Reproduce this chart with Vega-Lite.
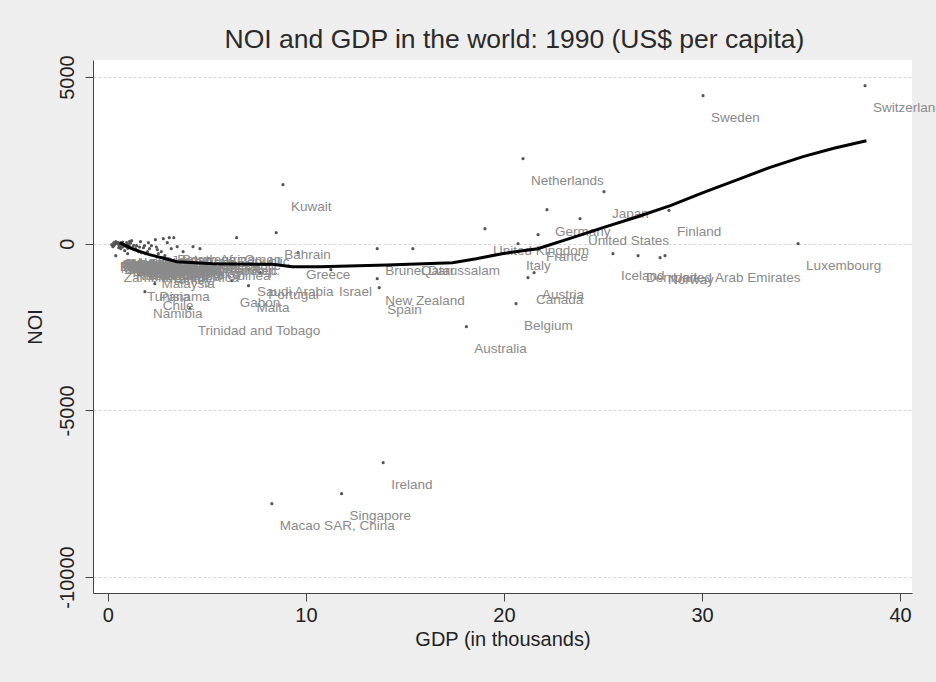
{
  "$schema": "https://vega.github.io/schema/vega-lite/v6.json",
  "width": 819,
  "height": 533,
  "autosize": {"type": "none"},
  "padding": {"left": 93, "top": 60, "right": 24, "bottom": 89},
  "background": "#eeeeee",
  "title": {
    "text": "NOI and GDP in the world: 1990 (US$ per capita)",
    "font": "Liberation Sans",
    "fontSize": 26.5,
    "fontWeight": "normal",
    "color": "#2a2a2a",
    "anchor": "middle",
    "offset": 1,
    "dx": 12
  },
  "config": {
    "view": {"fill": "white", "stroke": null},
    "axis": {
      "labelFont": "Liberation Sans",
      "titleFont": "Liberation Sans",
      "titleFontWeight": "normal",
      "labelColor": "#222222",
      "titleColor": "#222222",
      "domainColor": "#444444",
      "tickColor": "#444444",
      "labelFontSize": 20,
      "titleFontSize": 20,
      "tickSize": 8
    }
  },
  "datasets": {
    "countries": [
      {"country": "Ethiopia", "gdp": 0.2, "noi": -30},
      {"country": "Mozambique", "gdp": 0.25, "noi": -90},
      {"country": "Tanzania", "gdp": 0.3, "noi": -60},
      {"country": "Somalia", "gdp": 0.3, "noi": 30},
      {"country": "Malawi", "gdp": 0.35, "noi": -20},
      {"country": "Zambia", "gdp": 0.4, "noi": -360},
      {"country": "Chad", "gdp": 0.4, "noi": 60},
      {"country": "Burundi", "gdp": 0.45, "noi": 10},
      {"country": "Nepal", "gdp": 0.5, "noi": 40},
      {"country": "Bangladesh", "gdp": 0.55, "noi": -30},
      {"country": "Sierra Leone", "gdp": 0.55, "noi": -120},
      {"country": "Rwanda", "gdp": 0.6, "noi": 20},
      {"country": "Uganda", "gdp": 0.6, "noi": -90},
      {"country": "Madagascar", "gdp": 0.65, "noi": -150},
      {"country": "Burkina Faso", "gdp": 0.7, "noi": -40},
      {"country": "Niger", "gdp": 0.75, "noi": -100},
      {"country": "Mali", "gdp": 0.75, "noi": 50},
      {"country": "India", "gdp": 0.8, "noi": -40},
      {"country": "Nigeria", "gdp": 0.85, "noi": -210},
      {"country": "Kenya", "gdp": 0.9, "noi": -80},
      {"country": "Ghana", "gdp": 0.95, "noi": -60},
      {"country": "Gambia", "gdp": 0.95, "noi": 30},
      {"country": "Togo", "gdp": 1.0, "noi": -140},
      {"country": "Central African Republic", "gdp": 1.0, "noi": 0},
      {"country": "Benin", "gdp": 1.05, "noi": -20},
      {"country": "Haiti", "gdp": 1.1, "noi": 70},
      {"country": "Pakistan", "gdp": 1.1, "noi": -90},
      {"country": "China", "gdp": 1.15, "noi": 20},
      {"country": "Nicaragua", "gdp": 1.0, "noi": -300},
      {"country": "Lesotho", "gdp": 1.2, "noi": 90},
      {"country": "Zimbabwe", "gdp": 1.25, "noi": -120},
      {"country": "Sri Lanka", "gdp": 1.3, "noi": -50},
      {"country": "Honduras", "gdp": 1.35, "noi": -180},
      {"country": "Indonesia", "gdp": 1.4, "noi": -150},
      {"country": "Senegal", "gdp": 1.45, "noi": -60},
      {"country": "Bolivia", "gdp": 1.5, "noi": -210},
      {"country": "Cameroon", "gdp": 1.55, "noi": -240},
      {"country": "Philippines", "gdp": 1.6, "noi": -100},
      {"country": "Egypt", "gdp": 1.65, "noi": 60},
      {"country": "Côte d'Ivoire", "gdp": 1.7, "noi": -270},
      {"country": "Guatemala", "gdp": 1.8, "noi": -120},
      {"country": "Morocco", "gdp": 1.85, "noi": -60},
      {"country": "Papua New Guinea", "gdp": 1.9, "noi": -300},
      {"country": "Tunisia", "gdp": 1.57, "noi": -930},
      {"country": "Namibia", "gdp": 1.87, "noi": -1440},
      {"country": "Panama", "gdp": 2.2, "noi": -930},
      {"country": "Chile", "gdp": 2.37, "noi": -1200},
      {"country": "Ecuador", "gdp": 2.0, "noi": -240},
      {"country": "El Salvador", "gdp": 2.05, "noi": 30},
      {"country": "Dominican Republic", "gdp": 2.1, "noi": -150},
      {"country": "Paraguay", "gdp": 2.2, "noi": -60},
      {"country": "Malaysia", "gdp": 2.3, "noi": -540},
      {"country": "Syrian Arab Republic", "gdp": 2.4, "noi": 120},
      {"country": "Thailand", "gdp": 2.45, "noi": -100},
      {"country": "Colombia", "gdp": 2.5, "noi": -180},
      {"country": "Algeria", "gdp": 2.55, "noi": -300},
      {"country": "Peru", "gdp": 2.7, "noi": -240},
      {"country": "Jordan", "gdp": 2.8, "noi": 150},
      {"country": "Turkey", "gdp": 2.8, "noi": -420},
      {"country": "Costa Rica", "gdp": 2.88, "noi": -360},
      {"country": "Venezuela", "gdp": 3.0, "noi": 30},
      {"country": "Botswana", "gdp": 3.1, "noi": 180},
      {"country": "Brazil", "gdp": 3.2, "noi": -150},
      {"country": "South Africa", "gdp": 3.33, "noi": 180},
      {"country": "Mauritius", "gdp": 3.5, "noi": -90},
      {"country": "Uruguay", "gdp": 3.8, "noi": -240},
      {"country": "Trinidad and Tobago", "gdp": 4.14, "noi": -1950},
      {"country": "Argentina", "gdp": 4.3, "noi": -90},
      {"country": "Korea, Rep.", "gdp": 4.65, "noi": -150},
      {"country": "Gabon", "gdp": 6.26, "noi": -1110},
      {"country": "Oman", "gdp": 6.5, "noi": 180},
      {"country": "Malta", "gdp": 7.1, "noi": -1260},
      {"country": "Saudi Arabia", "gdp": 7.12, "noi": -780},
      {"country": "Portugal", "gdp": 7.7, "noi": -870},
      {"country": "Macao SAR, China", "gdp": 8.28, "noi": -7800},
      {"country": "Bahrain", "gdp": 8.5, "noi": 330},
      {"country": "Kuwait", "gdp": 8.84, "noi": 1770},
      {"country": "Greece", "gdp": 9.6, "noi": -270},
      {"country": "Israel", "gdp": 11.26, "noi": -780},
      {"country": "Singapore", "gdp": 11.8, "noi": -7500},
      {"country": "New Zealand", "gdp": 13.6, "noi": -1050},
      {"country": "Brunei Darussalam", "gdp": 13.6, "noi": -150},
      {"country": "Spain", "gdp": 13.7, "noi": -1320},
      {"country": "Ireland", "gdp": 13.9, "noi": -6570},
      {"country": "Qatar", "gdp": 15.4, "noi": -150},
      {"country": "Australia", "gdp": 18.1, "noi": -2490},
      {"country": "United Kingdom", "gdp": 19.04, "noi": 450},
      {"country": "Belgium", "gdp": 20.61, "noi": -1800},
      {"country": "Italy", "gdp": 20.71, "noi": 0},
      {"country": "Netherlands", "gdp": 20.96, "noi": 2550},
      {"country": "Canada", "gdp": 21.21, "noi": -1020},
      {"country": "Austria", "gdp": 21.52, "noi": -870},
      {"country": "France", "gdp": 21.72, "noi": 270},
      {"country": "Germany", "gdp": 22.17, "noi": 1020},
      {"country": "United States", "gdp": 23.84, "noi": 750},
      {"country": "Japan", "gdp": 25.05, "noi": 1560},
      {"country": "Iceland", "gdp": 25.5, "noi": -300},
      {"country": "Denmark", "gdp": 26.77, "noi": -360},
      {"country": "Norway", "gdp": 27.88, "noi": -420},
      {"country": "United Arab Emirates", "gdp": 28.13, "noi": -360},
      {"country": "Finland", "gdp": 28.33, "noi": 1000},
      {"country": "Sweden", "gdp": 30.05, "noi": 4440},
      {"country": "Luxembourg", "gdp": 34.85, "noi": 0},
      {"country": "Switzerland", "gdp": 38.23, "noi": 4740}
    ],
    "smooth": [
      {"gdp": 0.6, "noi": 30},
      {"gdp": 1.2, "noi": -150},
      {"gdp": 2.1, "noi": -330},
      {"gdp": 3.5, "noi": -540},
      {"gdp": 5.3, "noi": -600},
      {"gdp": 8.3, "noi": -620},
      {"gdp": 9.3, "noi": -690},
      {"gdp": 10.7, "noi": -690},
      {"gdp": 14.1, "noi": -640},
      {"gdp": 17.4, "noi": -570},
      {"gdp": 18.6, "noi": -450},
      {"gdp": 19.9, "noi": -300},
      {"gdp": 21.7, "noi": -150},
      {"gdp": 23.3, "noi": 150},
      {"gdp": 25.0, "noi": 480},
      {"gdp": 26.7, "noi": 800},
      {"gdp": 28.4, "noi": 1140},
      {"gdp": 30.05, "noi": 1530},
      {"gdp": 31.8, "noi": 1920},
      {"gdp": 33.4, "noi": 2280},
      {"gdp": 35.1, "noi": 2610},
      {"gdp": 36.7, "noi": 2870},
      {"gdp": 38.3, "noi": 3090}
    ]
  },
  "layer": [
    {
      "data": {"name": "countries"},
      "mark": {"type": "point", "filled": true, "size": 10, "color": "#555555", "opacity": 1, "shape": "circle"},
      "encoding": {
        "x": {
          "field": "gdp", "type": "quantitative",
          "scale": {"domain": [-0.75, 40.6], "nice": false, "zero": false},
          "axis": {"title": "GDP (in thousands)", "values": [0, 10, 20, 30, 40], "grid": false, "labelPadding": 4, "titlePadding": 4}
        },
        "y": {
          "field": "noi", "type": "quantitative",
          "scale": {"domain": [-10480, 5510], "nice": false, "zero": false},
          "axis": {
            "title": "NOI", "values": [-10000, -5000, 0, 5000],
            "labelExpr": "toString(datum.value)",
            "labelAngle": -90, "labelAlign": "center", "labelBaseline": "bottom",
            "labelPadding": 8, "titlePadding": 12,
            "grid": true, "gridColor": "#d6d6d6", "gridDash": [3, 2]
          }
        }
      }
    },
    {
      "data": {"name": "countries"},
      "mark": {"type": "text", "align": "left", "baseline": "middle", "dx": 8, "dy": 22, "fontSize": 13.5, "font": "Liberation Sans", "color": "#8a8a8a"},
      "encoding": {
        "x": {"field": "gdp", "type": "quantitative"},
        "y": {"field": "noi", "type": "quantitative"},
        "text": {"field": "country"}
      }
    },
    {
      "data": {"name": "smooth"},
      "mark": {"type": "line", "color": "black", "strokeWidth": 3},
      "encoding": {
        "x": {"field": "gdp", "type": "quantitative"},
        "y": {"field": "noi", "type": "quantitative"}
      }
    }
  ]
}
